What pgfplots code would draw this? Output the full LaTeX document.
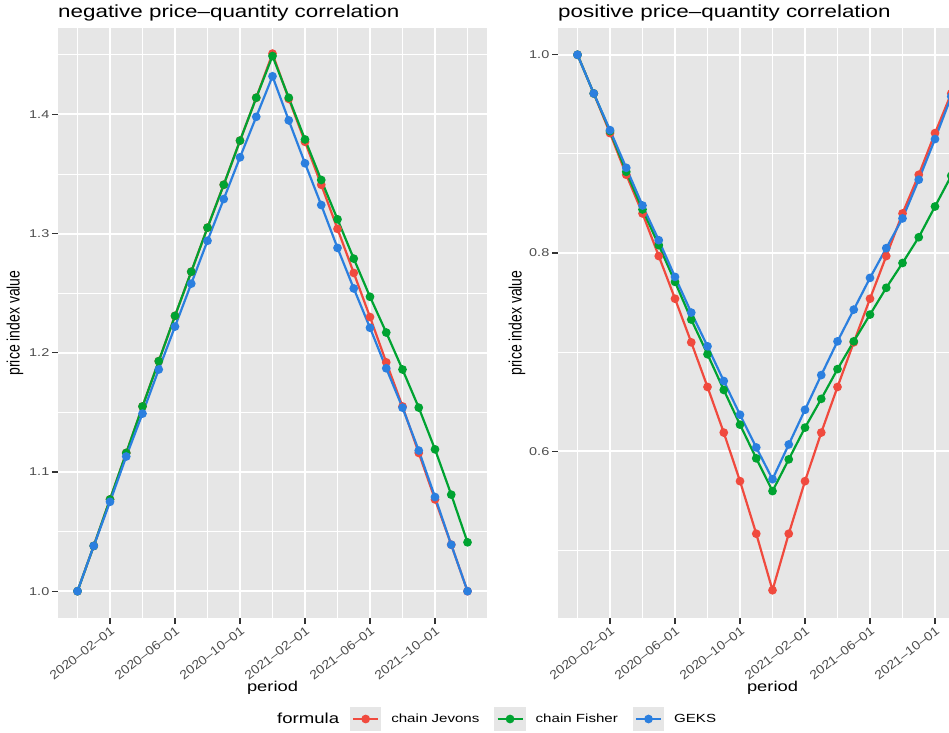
\documentclass[border=0pt]{standalone}
\usepackage{fontspec}
\setmainfont{Liberation Sans}
\usepackage{graphicx}
\usepackage{pgfplots}
\usepackage{pgfplotstable}
\pgfplotsset{compat=1.18}
\definecolor{panel}{HTML}{E6E6E6}
\definecolor{cjev}{HTML}{F04A3E}
\definecolor{cfis}{HTML}{00A331}
\definecolor{cgek}{HTML}{2B7FDF}
\definecolor{tickc}{HTML}{4D4D4D}
\newcommand\sx[1]{\scalebox{1.28}[1]{#1}}
\newcommand\xl[1]{\scalebox{1.12}[1]{#1}}
\newcommand\fs[1]{\fontsize{#1}{#1}\selectfont}

\pgfplotstableread{
i jev fis gek
0 1.000 1.000 1.000
1 1.038 1.038 1.038
2 1.077 1.077 1.075
3 1.116 1.116 1.113
4 1.155 1.155 1.149
5 1.193 1.193 1.186
6 1.231 1.231 1.222
7 1.268 1.268 1.258
8 1.305 1.305 1.294
9 1.341 1.341 1.329
10 1.378 1.378 1.364
11 1.414 1.414 1.398
12 1.451 1.449 1.432
13 1.413 1.414 1.395
14 1.377 1.379 1.359
15 1.341 1.345 1.324
16 1.304 1.312 1.288
17 1.267 1.279 1.254
18 1.230 1.247 1.221
19 1.192 1.217 1.187
20 1.155 1.186 1.154
21 1.116 1.154 1.118
22 1.077 1.119 1.079
23 1.039 1.081 1.039
24 1.000 1.041 1.000
}\negtab

\pgfplotstableread{
i jev fis gek
0 1.000 1.000 1.000
1 0.961 0.961 0.961
2 0.921 0.923 0.924
3 0.879 0.882 0.886
4 0.840 0.844 0.848
5 0.797 0.808 0.813
6 0.754 0.771 0.776
7 0.710 0.733 0.740
8 0.665 0.698 0.706
9 0.619 0.662 0.671
10 0.570 0.627 0.637
11 0.517 0.593 0.604
12 0.460 0.560 0.572
13 0.517 0.592 0.607
14 0.570 0.624 0.642
15 0.619 0.653 0.677
16 0.665 0.683 0.711
17 0.710 0.711 0.743
18 0.754 0.738 0.775
19 0.797 0.765 0.805
20 0.840 0.790 0.835
21 0.879 0.816 0.874
22 0.921 0.847 0.915
23 0.961 0.878 0.958
24 1.000 0.908 1.000
}\postab

\pgfplotsset{
  ggstyle/.style={
    scale only axis, width=429pt, height=590pt, anchor=south west,
    xmin=-1.2, xmax=25.2,
    axis background/.style={fill=panel},
    axis line style={draw=none},
    xtick={2,6,10,14,18,22},
    minor xtick={0,4,8,12,16,20,24},
    xticklabels={\xl{2020–02–01},\xl{2020–06–01},\xl{2020–10–01},\xl{2021–02–01},\xl{2021–06–01},\xl{2021–10–01}},
    grid=both,
    major grid style={white, line width=1.9pt},
    minor grid style={white, line width=1pt},
    tick pos=left, tick align=outside,
    major tick length=6pt, minor tick length=0pt,
    tick style={color=black!80, line width=1.2pt},
    xticklabel style={font=\fs{12.5}, text=tickc, rotate=38, anchor=north east, inner sep=1pt},
    yticklabel style={font=\fs{11.3}, text=tickc, inner sep=2.5pt},
    title style={at={(0,1)}, anchor=base west, yshift=4pt, inner sep=0pt, font=\fs{17.5}},
    xlabel={\sx{period}},
    xlabel style={at={(0.5,-0.1186)}, anchor=center, inner sep=0pt, font=\fs{14.3}},
    ylabel={\scalebox{1}[1.28]{price index value}},
    ylabel style={at={(-0.1,0.5)}, anchor=center, inner sep=0pt, font=\fs{14}},
    legend image code/.code={
      \fill[panel] (0pt,-11pt) rectangle (29pt,11pt);
      \draw[mark repeat=2, mark phase=2, #1] plot coordinates {(2pt,0pt) (14.5pt,0pt) (27pt,0pt)};
    },
  },
  jev/.style={cjev, line width=2.2pt, mark=*, mark size=3.2pt, mark options={solid}},
  fis/.style={cfis, line width=2.2pt, mark=*, mark size=3.2pt, mark options={solid}},
  gek/.style={cgek, line width=2.2pt, mark=*, mark size=3.2pt, mark options={solid}},
}

\begin{document}
\begin{tikzpicture}[x=1pt,y=1pt]
\path[use as bounding box] (0,0) rectangle (949,732);
\clip (0,0) rectangle (949,732);

\begin{axis}[ggstyle, at={(58pt,114pt)},
  ymin=0.9775, ymax=1.4725,
  ytick={1.0,1.1,1.2,1.3,1.4},
  minor ytick={1.05,1.15,1.25,1.35,1.45},
  yticklabels={\sx{1.0},\sx{1.1},\sx{1.2},\sx{1.3},\sx{1.4}},
  title={\sx{negative price–quantity correlation}},
  legend style={at={(0.4872,-0.1712)}, anchor=west, draw=none, fill=none,
    inner sep=0pt, legend columns=-1, font=\fs{11.8},
    nodes={inner sep=0pt},
    /tikz/every odd column/.append style={column sep=10pt},
    /tikz/every even column/.append style={column sep=15pt}},
]
\addlegendimage{empty legend}
\addlegendentry{\fs{14.5}\sx{formula}\hspace*{-4pt}}
\addplot[jev] table[x=i,y=jev] {\negtab};
\addlegendentry{\sx{chain Jevons}}
\addplot[fis] table[x=i,y=fis] {\negtab};
\addlegendentry{\sx{chain Fisher}}
\addplot[gek] table[x=i,y=gek] {\negtab};
\addlegendentry{\sx{GEKS}}
\end{axis}

\begin{axis}[ggstyle, at={(558pt,114pt)},
  ymin=0.432, ymax=1.027,
  ytick={0.6,0.8,1.0},
  minor ytick={0.5,0.7,0.9},
  yticklabels={\sx{0.6},\sx{0.8},\sx{1.0}},
  ylabel style={at={(-0.0956,0.5)}},
  title={\sx{positive price–quantity correlation}},
]
\addplot[jev] table[x=i,y=jev] {\postab};
\addplot[fis] table[x=i,y=fis] {\postab};
\addplot[gek] table[x=i,y=gek] {\postab};
\end{axis}
\end{tikzpicture}
\end{document}
